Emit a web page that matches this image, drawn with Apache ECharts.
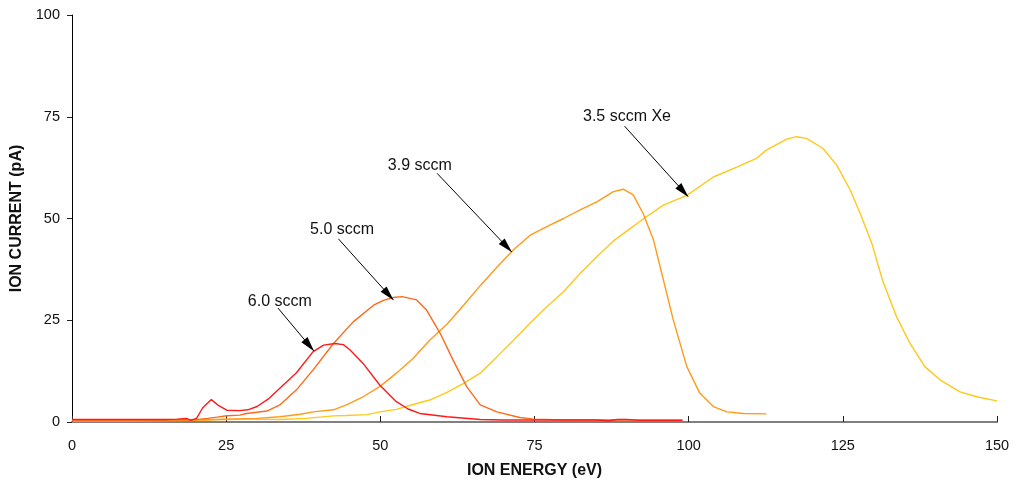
<!DOCTYPE html>
<html>
<head>
<meta charset="utf-8">
<title>Ion energy distribution</title>
<script src="https://cdn.jsdelivr.net/npm/echarts@6/dist/echarts.min.js"></script>
<style>
  html, body { margin: 0; padding: 0; background: #fff; }
  #chart { width: 1018px; height: 488px; }
</style>
</head>
<body>
<div id="chart"></div>
<script>
// --- data (eV, pA) ---------------------------------------------------------
const xTicks = [0, 25, 50, 75, 100, 125, 150];
const yTicks = [0, 25, 50, 75, 100];

// 6.0 sccm (red)
const energy60 = [0, 5, 10, 15, 17, 18.6, 19.2, 20.2, 21.2, 22.6, 23.8, 25.1, 27.2, 28.5, 30, 31.8, 33.7, 36.4, 39.1, 40.8, 42.6, 44, 45.1, 47.2, 49.9, 52.6, 54.5, 56.4, 60.8, 66.2, 70, 75, 80, 85, 87, 88.5, 90, 92, 95, 99];
const current60 = [0.6, 0.6, 0.6, 0.6, 0.7, 0.9, 0.4, 0.9, 3.5, 5.5, 4.0, 2.9, 2.8, 3.0, 3.8, 5.6, 8.3, 12.1, 17.3, 18.9, 19.3, 19.0, 17.7, 14.4, 9.1, 5.0, 3.2, 2.1, 1.3, 0.6, 0.5, 0.5, 0.5, 0.5, 0.3, 0.6, 0.6, 0.4, 0.4, 0.4];

// 5.0 sccm (orange-red)
const energy50 = [0, 5, 10, 15, 20, 20.8, 22, 23.5, 25.1, 27.2, 28.3, 31.6, 33.7, 36.4, 39.1, 42.4, 45.6, 48.9, 50.5, 52.1, 53.5, 55.9, 57.5, 59.7, 61.8, 64, 66.2, 68.9, 72.6, 74.8, 80, 90, 99];
const current50 = [0.5, 0.5, 0.5, 0.5, 0.6, 0.7, 0.9, 1.2, 1.55, 1.7, 2.1, 2.7, 4.2, 7.9, 12.8, 19.3, 24.6, 28.7, 29.9, 30.6, 30.8, 30.0, 27.5, 21.8, 15.2, 8.7, 4.2, 2.5, 1.1, 0.7, 0.5, 0.5, 0.5];

// 3.9 sccm (orange)
const energy39 = [0, 10, 20, 25, 30, 33.7, 37, 39.1, 42.4, 44.5, 47.2, 49.9, 52.6, 55.3, 58, 60.8, 63.5, 66.2, 68.9, 71.6, 74.3, 77, 79.7, 82.4, 85.1, 87.8, 89.4, 91, 92.6, 94.3, 95.9, 97.5, 99.7, 101.8, 104, 106.2, 108.9, 112.6];
const current39 = [0.4, 0.4, 0.5, 0.7, 0.9, 1.3, 1.9, 2.5, 3.0, 4.2, 6.2, 8.7, 12.0, 15.6, 20.1, 24.0, 28.7, 33.5, 38, 42.3, 45.9, 48.0, 50.0, 52.1, 54.1, 56.6, 57.2, 55.8, 51.3, 44.7, 34.9, 25.1, 13.6, 7.1, 3.8, 2.5, 2.1, 2.0];

// 3.5 sccm Xe (yellow)
const energy35 = [0, 10, 20, 25, 30, 33.7, 38, 42.4, 44.5, 47.8, 49.9, 52.6, 55.3, 58, 60.8, 63.5, 66.2, 68.9, 71.6, 74.3, 77, 79.7, 82.4, 85.1, 87.8, 90.5, 93.2, 95.9, 99.7, 104, 107.8, 111, 112.6, 115.9, 117.5, 119.1, 121.8, 124, 126.2, 127.8, 129.7, 131.5, 133.7, 135.9, 138.3, 140.8, 144, 146.7, 150];
const current35 = [0.3, 0.3, 0.4, 0.6, 0.7, 0.6, 0.9, 1.5, 1.6, 1.8, 2.5, 3.1, 4.3, 5.4, 7.3, 9.5, 12.0, 16.0, 20.1, 24.3, 28.3, 32.0, 36.5, 40.6, 44.5, 47.5, 50.5, 53.3, 55.7, 60.2, 62.6, 64.8, 66.8, 69.5, 70.1, 69.7, 67.2, 63.1, 57.0, 51.3, 43.9, 34.5, 25.9, 19.3, 13.6, 10.3, 7.4, 6.2, 5.2];

// annotations: label centre, arrow start, arrow tip (data coords)
const labelNames = ["6.0 sccm", "5.0 sccm", "3.9 sccm", "3.5 sccm Xe"];
const labelAt = [[33.7, 29.7], [43.8, 47.2], [56.4, 62.9], [90.0, 75.0]];
const arrowFrom = [[33.4, 28.0], [43.2, 45.0], [59.2, 61.1], [89.6, 72.7]];
const arrowTo = [[39.2, 17.5], [52.1, 30.0], [71.3, 41.8], [99.9, 55.4]];

// --- build ------------------------------------------------------------------
const FONT = "'Liberation Sans', Arial, sans-serif";
const zip = (xs, ys) => xs.map((x, i) => [x, ys[i]]);

const curves = [
  { name: "3.5 sccm Xe", color: "#ffc81a", data: zip(energy35, current35), ann: 3 },
  { name: "3.9 sccm", color: "#ff9a1a", data: zip(energy39, current39), ann: 2 },
  { name: "5.0 sccm", color: "#ff6a1a", data: zip(energy50, current50), ann: 1 },
  { name: "6.0 sccm", color: "#ff1a1a", data: zip(energy60, current60), ann: 0 },
];

const series = curves.map((c) => ({
  name: c.name,
  type: "line",
  data: c.data,
  showSymbol: false,
  symbol: "none",
  smooth: false,
  lineStyle: { color: c.color, width: 1.4 },
  z: 2,
  // arrow from the label to the curve; tip shifted back so it ends on the line
  markLine: {
    silent: true,
    animation: false,
    symbol: ["none", "triangle"],
    symbolSize: [0, 12],
    lineStyle: { color: "#000", width: 1, type: "solid" },
    itemStyle: { color: "#000" },
    label: { show: false },
    data: [[
      { coord: arrowFrom[c.ann], symbol: "none" },
      { coord: arrowTo[c.ann], symbol: "triangle", symbolSize: [8, 15], symbolOffset: [0, 7] },
    ]],
  },
  markPoint: {
    silent: true,
    animation: false,
    symbol: "rect",
    symbolSize: 0,
    label: {
      show: true, position: "inside", color: "#111", fontFamily: FONT, fontSize: 16,
      formatter: () => labelNames[c.ann],
    },
    data: [{ coord: labelAt[c.ann] }],
  },
}));

const chart = echarts.init(document.getElementById("chart"), null, { renderer: "canvas" });
chart.setOption({
  animation: false,
  backgroundColor: "#fff",
  grid: { left: 72, right: 21, top: 15, bottom: 66 },
  xAxis: {
    type: "value", min: 0, max: 150, interval: 25,
    name: "ION ENERGY (eV)", nameLocation: "middle", nameGap: 41,
    nameTextStyle: { fontFamily: FONT, fontSize: 16, fontWeight: "bold", color: "#111" },
    axisLine: { show: true, onZero: false, lineStyle: { color: "#808080", width: 2 } },
    axisTick: { show: true, inside: true, length: 6, lineStyle: { color: "#222" } },
    axisLabel: { fontFamily: FONT, fontSize: 14.5, color: "#111", margin: 16,
      customValues: xTicks },
    splitLine: { show: false },
  },
  yAxis: {
    type: "value", min: 0, max: 100, interval: 25,
    name: "ION CURRENT (pA)", nameLocation: "middle", nameGap: 47,
    nameTextStyle: { fontFamily: FONT, fontSize: 16, fontWeight: "bold", color: "#111" },
    axisLine: { show: true, lineStyle: { color: "#000", width: 1 } },
    axisTick: { show: true, length: 5, lineStyle: { color: "#222" } },
    axisLabel: { fontFamily: FONT, fontSize: 14.5, color: "#111", margin: 12,
      customValues: yTicks },
    splitLine: { show: false },
  },
  series,
});
</script>
</body>
</html>
